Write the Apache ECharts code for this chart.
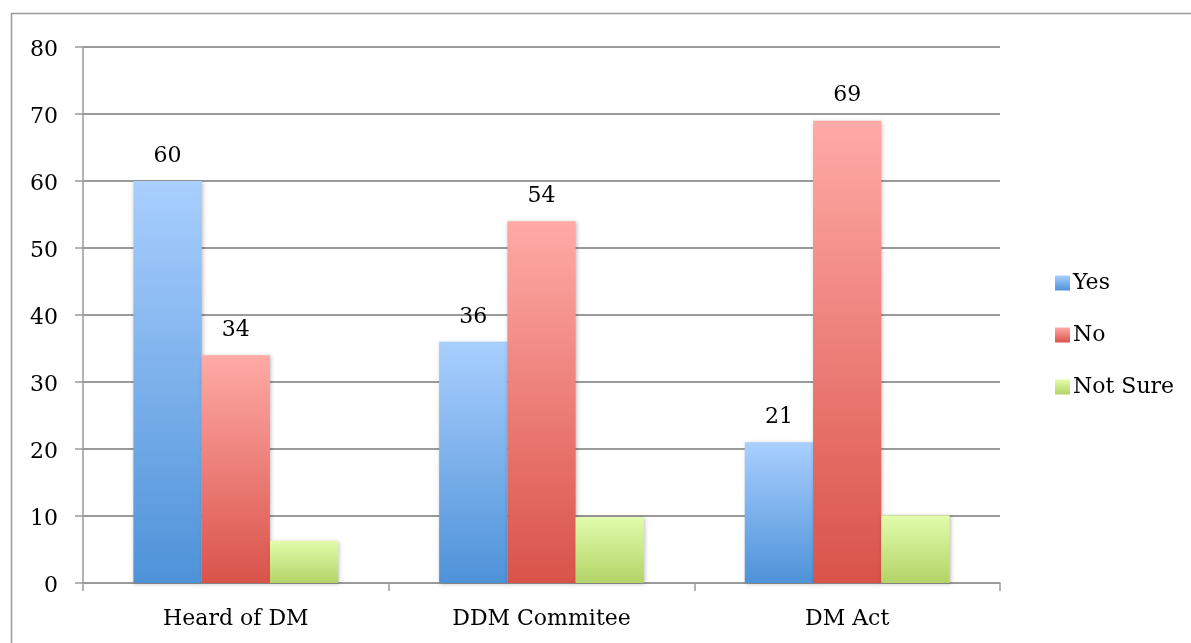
<!DOCTYPE html>
<html>
<head>
<meta charset="utf-8">
<script src="https://cdn.jsdelivr.net/npm/echarts@6/dist/echarts.min.js"></script>
<style>
  html, body { margin: 0; padding: 0; background: #fff; }
  #chart { width: 1191px; height: 643px; }
</style>
</head>
<body>
<div id="chart"></div>
<script>
// Survey awareness of disaster-management bodies and law (%)
const categories = ['Heard of DM', 'DDM Commitee', 'DM Act'];
const yesValues = [60, 36, 21];
const noValues = [34, 54, 69];
const notSureValues = [6.3, 9.8, 10.1];
const yTicks = [0, 10, 20, 30, 40, 50, 60, 70, 80];

const FONT = 'DejaVu Serif';
const FONT_SIZE = 22;

function grad(top, bottom) {
  return new echarts.graphic.LinearGradient(0, 0, 0, 1, [
    { offset: 0, color: top },
    { offset: 1, color: bottom }
  ]);
}

const barShadow = {
  shadowColor: 'rgba(0,0,0,0.25)',
  shadowBlur: 4,
  shadowOffsetX: 1,
  shadowOffsetY: 1
};

const valueLabel = {
  show: true,
  position: 'top',
  distance: 14,
  fontFamily: FONT,
  fontSize: FONT_SIZE,
  color: '#000'
};

const chart = echarts.init(document.getElementById('chart'), null, { renderer: 'canvas' });

chart.setOption({
  animation: false,
  backgroundColor: '#fff',
  graphic: [{
    type: 'rect',
    shape: { x: 11.5, y: 13.5, width: 1300, height: 800 },
    style: { fill: 'none', stroke: '#9a9a9a', lineWidth: 1.5 },
    silent: true
  }],
  grid: { left: 83, right: 191, top: 47, bottom: 60 },
  legend: {
    orient: 'vertical',
    left: 1050,
    top: 267,
    itemWidth: 15,
    itemHeight: 15,
    itemGap: 30,
    icon: 'rect',
    textStyle: { fontFamily: FONT, fontSize: FONT_SIZE, color: '#000', padding: [0, 0, 0, -2] },
    data: ['Yes', 'No', 'Not Sure']
  },
  xAxis: {
    type: 'category',
    data: categories,
    axisLine: { lineStyle: { color: '#9a9a9a', width: 1.5 } },
    axisTick: { show: true, length: 8, lineStyle: { color: '#9a9a9a', width: 1.5 } },
    axisLabel: { fontFamily: FONT, fontSize: FONT_SIZE, color: '#000', margin: 25 },
    splitLine: { show: false }
  },
  yAxis: {
    type: 'value',
    min: yTicks[0],
    max: yTicks[yTicks.length - 1],
    interval: yTicks[1] - yTicks[0],
    axisLine: { show: true, lineStyle: { color: '#9a9a9a', width: 1.5 } },
    axisTick: { show: true, length: 8, lineStyle: { color: '#9a9a9a', width: 1.5 } },
    axisLabel: {
      margin: 25,
      formatter: '{v|{value}}',
      rich: {
        v: { fontFamily: FONT, fontSize: FONT_SIZE, color: '#000', padding: [7, 0, 0, 0] }
      }
    },
    splitLine: { show: true, lineStyle: { color: '#9a9a9a', width: 2 } }
  },
  series: [
    {
      name: 'Yes',
      type: 'bar',
      data: yesValues,
      barGap: '0%',
      barCategoryGap: '33%',
      itemStyle: Object.assign({ color: grad('#a9cffe', '#4e92d8') }, barShadow),
      label: valueLabel
    },
    {
      name: 'No',
      type: 'bar',
      data: noValues,
      barGap: '0%',
      barCategoryGap: '33%',
      itemStyle: Object.assign({ color: grad('#ffaaa6', '#d9534a') }, barShadow),
      label: valueLabel
    },
    {
      name: 'Not Sure',
      type: 'bar',
      data: notSureValues,
      barGap: '0%',
      barCategoryGap: '33%',
      itemStyle: Object.assign({ color: grad('#e2fcab', '#b3d468') }, barShadow)
    }
  ]
});
</script>
</body>
</html>
